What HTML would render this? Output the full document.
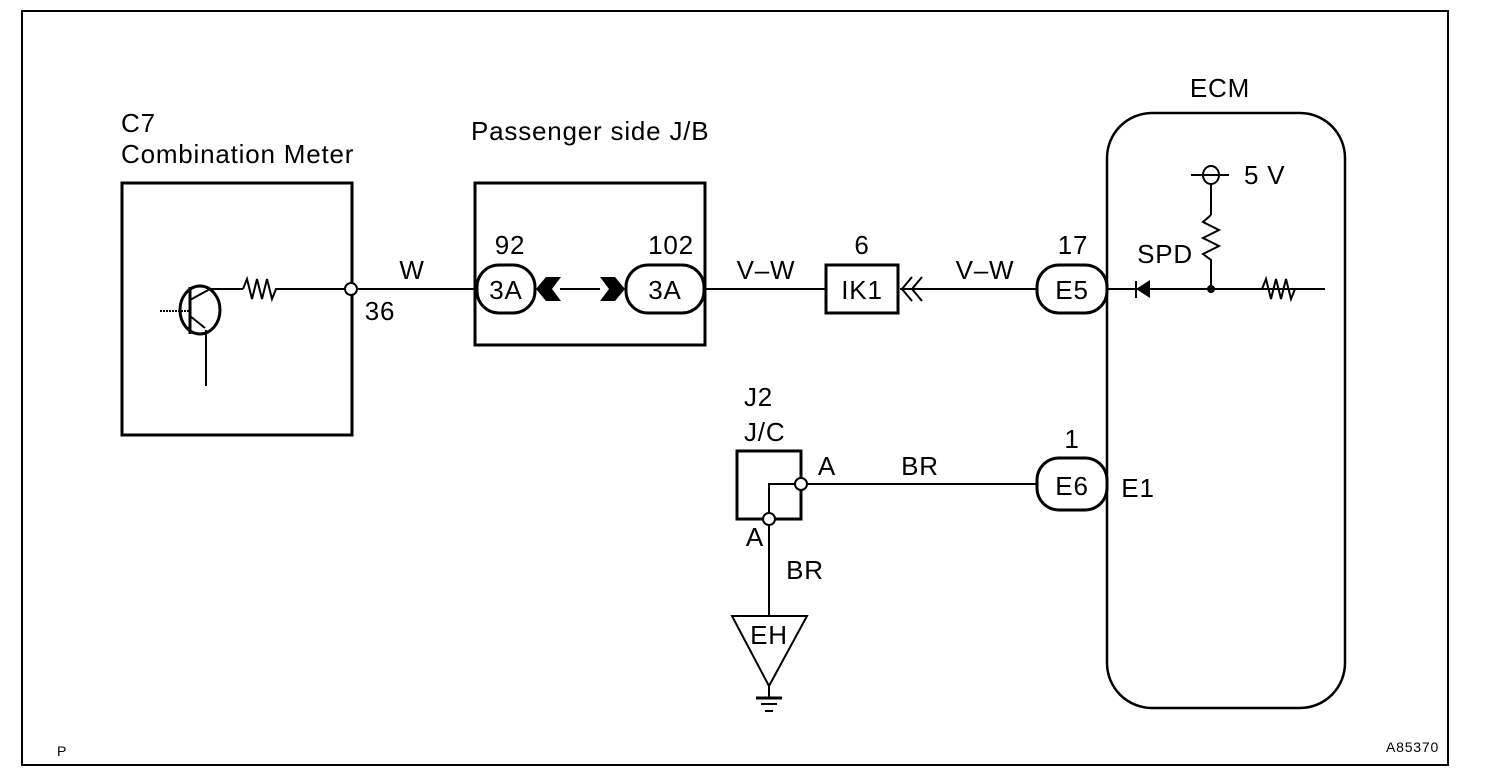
<!DOCTYPE html>
<html><head><style>body{margin:0;background:#fff}svg{display:block}text{font-family:"Liberation Sans",sans-serif;fill:#000;letter-spacing:0.8px}</style></head><body>
<svg width="1504" height="784" viewBox="0 0 1504 784" xmlns="http://www.w3.org/2000/svg">
<rect x="22" y="11" width="1426" height="754" fill="none" stroke="#000" stroke-width="2"/>
<g fill="none" stroke="#000" stroke-width="2">
<rect x="122" y="183" width="230" height="252" stroke-width="3"/>
<rect x="475" y="183" width="230" height="162" stroke-width="3"/>
<rect x="1107" y="113" width="238" height="595" rx="45" stroke-width="2.5"/>
<ellipse cx="200" cy="310" rx="20" ry="24" stroke-width="3"/>
<line x1="190" y1="287" x2="190" y2="334" stroke-width="3"/>
<line x1="160" y1="311" x2="190" y2="311" stroke-dasharray="2 1"/>
<polyline points="190,300 210,289 243,289"/>
<line x1="190" y1="316" x2="205" y2="328"/>
<line x1="206" y1="330" x2="206" y2="386"/>
<polyline points="243,289 247,279 252,299 257,279 262,299 267,279 272,299 276,289 345,289"/>
<line x1="357" y1="289" x2="475" y2="289"/>
<line x1="560" y1="289" x2="600" y2="289"/>
<line x1="705" y1="289" x2="826" y2="289"/>
<line x1="900" y1="289" x2="1037" y2="289"/>
<polyline points="912,277 902,289 912,301"/><polyline points="922,277 912,289 922,301"/>
<rect x="826" y="265" width="72" height="48" stroke-width="3"/>
<rect x="477" y="265" width="58" height="48" rx="22" stroke-width="3"/>
<rect x="626" y="265" width="78" height="48" rx="22" stroke-width="3"/>
<rect x="1037" y="265" width="70" height="48" rx="22" stroke-width="3"/>
<rect x="1037" y="458" width="70" height="52" rx="22" stroke-width="3"/>
<line x1="1107" y1="289" x2="1325" y2="289"/>
<line x1="1136" y1="281" x2="1136" y2="298"/>
<polyline points="1262,289 1266,279 1271,299 1276,279 1281,299 1286,279 1291,299 1295,289"/>
<line x1="1211" y1="183" x2="1211" y2="215"/>
<polyline points="1211,215 1203,222 1219,230 1203,238 1219,246 1203,254 1211,260 1211,289"/>
<ellipse cx="1211" cy="175" rx="8" ry="9"/>
<line x1="1191" y1="175" x2="1229" y2="175"/>
<rect x="737" y="451" width="64" height="68" stroke-width="3"/>
<polyline points="801,484 769,484 769,519"/>
<line x1="807" y1="484" x2="1037" y2="484"/>
<line x1="769" y1="525" x2="769" y2="616"/>
<polygon points="732,616 807,616 769,686"/>
<line x1="769" y1="686" x2="769" y2="698"/>
<line x1="756" y1="698" x2="782" y2="698" stroke-width="3"/>
<line x1="761" y1="704" x2="777" y2="704"/>
<line x1="765" y1="711" x2="773" y2="711"/>
</g>
<g fill="#fff" stroke="#000" stroke-width="2">
<circle cx="351" cy="289" r="6"/><circle cx="801" cy="484" r="6"/><circle cx="769" cy="519" r="6"/>
</g>
<polygon points="536,289 546,277 561,277 552,289 561,301 546,301" fill="#000"/>
<polygon points="600,277 615,277 625,289 615,301 600,301 609,289" fill="#000"/>
<polygon points="1136,289 1150,280 1150,298" fill="#000"/>
<circle cx="1211" cy="289" r="4" fill="#000"/>
<g font-size="26">
<text x="121" y="132">C7</text>
<text x="121" y="163">Combination Meter</text>
<text x="471" y="140">Passenger side J/B</text>
<text x="1220" y="97" text-anchor="middle">ECM</text>
<text x="412" y="279" text-anchor="middle">W</text>
<text x="380" y="320" text-anchor="middle">36</text>
<text x="510" y="254" text-anchor="middle">92</text>
<text x="671" y="254" text-anchor="middle">102</text>
<text x="506" y="299" text-anchor="middle">3A</text>
<text x="665" y="299" text-anchor="middle">3A</text>
<text x="766" y="279" text-anchor="middle">V–W</text>
<text x="985" y="279" text-anchor="middle">V–W</text>
<text x="862" y="254" text-anchor="middle">6</text>
<text x="862" y="299" text-anchor="middle">IK1</text>
<text x="1073" y="254" text-anchor="middle">17</text>
<text x="1072" y="299" text-anchor="middle">E5</text>
<text x="1165" y="263" text-anchor="middle">SPD</text>
<text x="1244" y="184">5 V</text>
<text x="744" y="406">J2</text>
<text x="744" y="441">J/C</text>
<text x="827" y="475" text-anchor="middle">A</text>
<text x="755" y="546" text-anchor="middle">A</text>
<text x="920" y="475" text-anchor="middle">BR</text>
<text x="805" y="579" text-anchor="middle">BR</text>
<text x="1072" y="448" text-anchor="middle">1</text>
<text x="1072" y="495" text-anchor="middle">E6</text>
<text x="1138" y="497" text-anchor="middle">E1</text>
<text x="769" y="644" text-anchor="middle">EH</text>
</g>
<text x="57" y="756" font-size="14">P</text>
<text x="1386" y="752" font-size="14">A85370</text>
</svg>
</body></html>
